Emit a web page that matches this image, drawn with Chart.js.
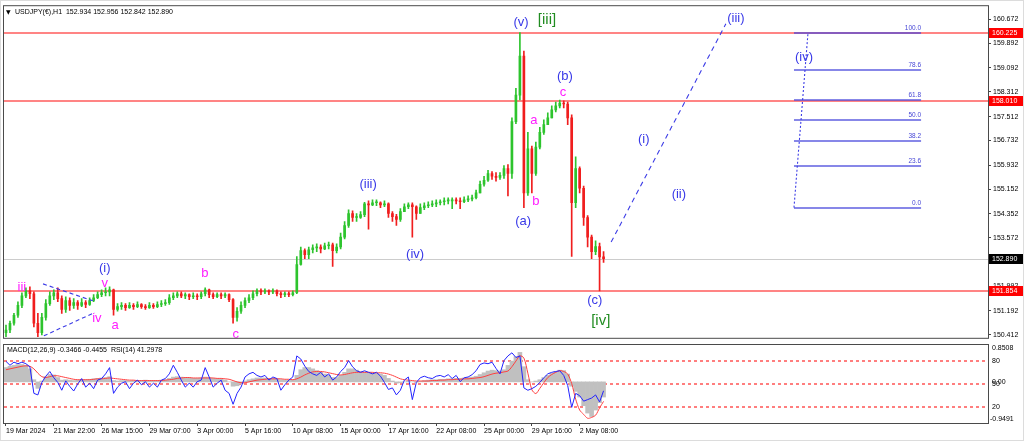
<!DOCTYPE html>
<html><head><meta charset="utf-8">
<script src="https://cdn.jsdelivr.net/npm/chart.js@4.4.1/dist/chart.umd.min.js"></script>
<style>
html,body{margin:0;padding:0;background:#fff;}
#wrap{position:relative;width:1024px;height:441px;overflow:hidden;background:#fff;}
#c1{position:absolute;left:0;top:0;}
#c2{position:absolute;left:0;top:344px;}
#edge{position:absolute;left:0;top:0;width:1024px;height:441px;box-sizing:border-box;border:1px solid #dcdcdc;pointer-events:none;}
</style></head>
<body>
<div id="wrap">
<canvas id="c1" width="1024" height="344"></canvas>
<canvas id="c2" width="1024" height="97"></canvas>
<div id="edge"></div>
</div>
<script>
const FONT = "'Liberation Sans', Arial, sans-serif";
const symbolTitle = "USDJPY(€),H1  152.934 152.956 152.842 152.890";
const indicatorTitle = "MACD(12,26,9) -0.3466 -0.4455  RSI(14) 41.2978";

const timeLabels = ["19 Mar 2024","21 Mar 22:00","26 Mar 15:00","29 Mar 07:00","3 Apr 00:00","5 Apr 16:00","10 Apr 08:00","15 Apr 00:00","17 Apr 16:00","22 Apr 08:00","25 Apr 00:00","29 Apr 16:00","2 May 08:00"];
const priceTicks = [160.672,159.892,159.092,158.312,157.512,156.732,155.932,155.152,154.352,153.572,152.792,151.992,151.192,150.412];

const opens = [150.48,150.57,150.79,151.05,151.37,151.68,151.84,151.75,150.79,150.48,
150.98,151.43,151.68,151.78,151.59,151.24,151.53,151.37,151.46,151.37,
151.46,151.40,151.53,151.62,151.72,151.78,151.81,151.88,151.24,151.33,
151.37,151.30,151.37,151.33,151.40,151.33,151.30,151.37,151.33,151.40,
151.43,151.46,151.62,151.68,151.75,151.68,151.72,151.65,151.68,151.65,
151.75,151.88,151.72,151.65,151.72,151.68,151.72,151.56,150.98,151.18,
151.37,151.53,151.62,151.75,151.84,151.81,151.84,151.81,151.84,151.75,
151.72,151.75,151.72,151.78,152.70,153.15,153.02,153.18,153.24,153.27,
153.21,153.31,153.34,153.15,153.27,153.59,153.97,154.36,154.23,154.23,
154.32,154.67,154.64,154.71,154.71,154.64,154.67,154.36,154.26,154.17,
154.42,154.58,154.64,154.58,154.36,154.55,154.61,154.64,154.67,154.71,
154.74,154.77,154.77,154.80,154.77,154.74,154.80,154.83,154.87,155.03,
155.31,155.44,155.66,155.57,155.53,155.60,155.82,155.66,157.35,158.21,
159.48,155.03,156.46,155.66,156.52,157.00,157.25,157.47,157.73,157.86,
157.95,157.92,157.47,154.71,155.82,155.18,154.23,153.59,153.12,153.28,
152.95];
const highs = [150.73,150.86,151.11,151.49,151.78,151.94,151.97,151.81,151.11,151.11,
151.56,151.81,151.88,151.94,151.68,151.65,151.62,151.59,151.53,151.59,
151.53,151.62,151.72,151.81,151.88,151.94,151.97,151.90,151.43,151.46,
151.43,151.46,151.43,151.49,151.43,151.40,151.46,151.43,151.49,151.53,
151.56,151.72,151.78,151.81,151.81,151.78,151.75,151.78,151.75,151.81,
151.94,151.90,151.78,151.78,151.78,151.78,151.75,151.59,151.30,151.49,
151.62,151.72,151.84,151.91,151.91,151.91,151.88,151.91,151.88,151.81,
151.81,151.81,151.84,152.96,153.27,153.21,153.27,153.34,153.37,153.34,
153.40,153.43,153.40,153.37,153.72,154.10,154.48,154.45,154.36,154.42,
154.72,154.77,154.80,154.80,154.74,154.77,154.71,154.42,154.33,154.52,
154.67,154.71,154.71,154.61,154.67,154.71,154.74,154.77,154.80,154.80,
154.87,154.87,154.87,154.87,154.87,154.90,154.93,154.96,155.12,155.41,
155.57,155.76,155.72,155.69,155.69,155.92,155.95,157.47,158.43,160.24,
159.64,157.00,156.55,156.68,157.16,157.41,157.63,157.86,157.98,158.05,
158.02,157.98,157.57,156.20,155.88,155.25,154.29,153.66,153.47,153.40,
153.12];
const lows = [150.35,150.48,150.73,150.98,151.30,151.62,151.59,150.67,150.35,150.41,
150.89,151.37,151.56,151.49,151.11,151.14,151.21,151.27,151.24,151.33,
151.30,151.37,151.49,151.59,151.65,151.68,151.68,151.05,151.18,151.24,
151.21,151.27,151.24,151.30,151.27,151.24,151.27,151.27,151.30,151.33,
151.37,151.40,151.56,151.62,151.62,151.59,151.56,151.59,151.56,151.59,
151.68,151.62,151.59,151.62,151.59,151.62,151.49,150.79,150.86,151.11,
151.30,151.46,151.56,151.68,151.72,151.75,151.72,151.75,151.68,151.62,
151.65,151.65,151.68,151.75,152.68,152.89,152.89,153.08,153.12,153.08,
153.18,153.21,152.64,153.08,153.21,153.53,153.91,154.10,154.10,154.20,
154.26,153.85,154.61,154.61,154.55,154.58,154.23,154.10,153.97,154.10,
154.42,154.52,153.59,154.17,154.36,154.48,154.55,154.58,154.58,154.64,
154.64,154.67,154.52,154.67,154.52,154.71,154.74,154.77,154.83,155.03,
155.25,155.40,155.47,155.41,155.47,155.50,154.93,155.50,157.28,158.05,
154.55,154.95,155.03,155.60,156.46,156.93,157.25,157.47,157.66,157.79,
157.79,157.25,152.96,154.55,155.03,153.97,153.27,152.89,153.02,151.84,
152.77];
const closes = [150.57,150.79,151.05,151.37,151.68,151.84,151.75,150.79,150.48,150.98,
151.43,151.68,151.78,151.59,151.24,151.53,151.37,151.46,151.37,151.46,
151.40,151.53,151.62,151.72,151.78,151.81,151.88,151.24,151.33,151.37,
151.30,151.37,151.33,151.40,151.33,151.30,151.37,151.33,151.40,151.43,
151.46,151.62,151.68,151.75,151.68,151.72,151.65,151.68,151.65,151.75,
151.88,151.72,151.65,151.72,151.68,151.72,151.56,150.98,151.18,151.37,
151.53,151.62,151.75,151.84,151.81,151.84,151.81,151.84,151.75,151.72,
151.75,151.72,151.78,152.70,153.15,153.02,153.18,153.24,153.27,153.21,
153.31,153.34,153.15,153.27,153.59,153.97,154.36,154.23,154.23,154.32,
154.67,154.64,154.71,154.71,154.64,154.67,154.36,154.26,154.17,154.42,
154.58,154.64,154.58,154.36,154.55,154.61,154.64,154.67,154.71,154.74,
154.77,154.77,154.80,154.77,154.74,154.80,154.83,154.87,155.03,155.31,
155.44,155.66,155.57,155.53,155.60,155.82,155.66,157.35,158.21,159.48,
155.03,156.46,155.66,156.52,157.00,157.25,157.47,157.73,157.86,157.95,
157.92,157.47,154.71,155.82,155.18,154.23,153.59,153.12,153.28,152.95,
152.89];

const macdMain = [0.33,0.36,0.38,0.40,0.40,0.38,0.30,0.05,-0.15,0.02,
0.12,0.17,0.16,0.10,0.04,0.05,0.04,0.03,0.04,0.05,
0.05,0.06,0.07,0.08,0.09,0.10,0.12,0.03,0.02,0.03,
0.03,0.02,0.03,0.03,0.03,0.04,0.03,0.03,0.03,0.04,
0.05,0.08,0.11,0.12,0.11,0.10,0.09,0.08,0.08,0.09,
0.11,0.10,0.08,0.07,0.06,0.04,0.00,-0.10,-0.09,-0.04,
0.02,0.05,0.07,0.09,0.09,0.09,0.08,0.08,0.07,0.05,
0.04,0.04,0.04,0.15,0.28,0.33,0.33,0.30,0.26,0.22,
0.18,0.15,0.10,0.10,0.15,0.22,0.30,0.30,0.27,0.24,
0.23,0.22,0.21,0.20,0.18,0.15,0.08,0.02,-0.03,-0.02,
0.00,0.02,0.00,-0.01,0.01,0.03,0.04,0.05,0.05,0.06,
0.06,0.07,0.07,0.08,0.08,0.09,0.10,0.11,0.13,0.17,
0.21,0.25,0.27,0.26,0.25,0.28,0.38,0.48,0.58,0.68,
0.35,0.05,0.00,0.02,0.05,0.10,0.15,0.20,0.24,0.27,
0.26,0.18,-0.10,-0.22,-0.35,-0.55,-0.72,-0.80,-0.65,-0.48,
-0.35];
const macdSignal = [0.28,0.30,0.32,0.34,0.36,0.37,0.36,0.30,0.20,0.12,
0.10,0.12,0.14,0.14,0.12,0.10,0.08,0.06,0.05,0.05,
0.05,0.05,0.06,0.07,0.07,0.08,0.09,0.08,0.07,0.06,
0.05,0.04,0.04,0.03,0.03,0.03,0.03,0.03,0.03,0.03,
0.04,0.05,0.06,0.08,0.09,0.10,0.10,0.09,0.09,0.09,
0.09,0.09,0.09,0.08,0.08,0.07,0.06,0.03,0.00,-0.02,
-0.02,0.00,0.02,0.04,0.05,0.06,0.07,0.07,0.07,0.07,
0.06,0.06,0.05,0.07,0.11,0.16,0.20,0.23,0.24,0.24,
0.23,0.21,0.19,0.17,0.16,0.17,0.19,0.21,0.22,0.22,
0.22,0.22,0.22,0.21,0.21,0.20,0.18,0.15,0.11,0.07,
0.05,0.04,0.03,0.02,0.02,0.02,0.02,0.03,0.03,0.04,
0.04,0.05,0.05,0.06,0.06,0.07,0.07,0.08,0.09,0.10,
0.12,0.15,0.18,0.20,0.21,0.23,0.25,0.35,0.48,0.60,
0.55,0.20,-0.18,-0.27,-0.15,-0.02,0.10,0.17,0.22,0.26,
0.24,0.18,-0.04,-0.40,-0.65,-0.75,-0.84,-0.82,-0.77,-0.60,
-0.45];
const rsiValues = [79,74,78,76,78,76,72,38,36,52,
60,66,58,52,42,54,47,41,50,57,
46,51,44,55,57,63,71,38,46,51,
53,44,51,55,49,53,46,51,46,55,
57,63,74,65,55,46,51,46,53,55,
71,59,46,51,55,42,38,24,38,46,
59,63,65,61,59,61,55,59,57,42,
49,55,59,86,82,73,66,63,61,65,
59,63,55,59,66,71,80,72,67,65,
67,65,63,65,60,52,43,45,36,42,
55,59,30,52,58,60,58,57,60,61,
59,62,57,61,53,58,59,62,67,75,
77,76,78,70,63,80,86,90,84,86,
45,42,44,47,52,58,63,65,66,67,
61,48,20,38,35,28,30,32,36,27,
41.3];

const levelLines = [160.225, 158.010, 151.854];
const bidPrice = 152.890;
const fibLevels = [0.0, 23.6, 38.2, 50.0, 61.8, 78.6, 100.0];
const fibLow = 154.55, fibHigh = 160.225;
const rsiLevels = [80, 50, 20];
const TOTAL_SLOTS = 247;

/* annotations in data coordinates (slot index, price) */
const waveLabels = [
  {text:'(v)', at:129.3, price:160.59, kind:'blue'},
  {text:'[iii]', at:135.8, price:160.66, kind:'green'},
  {text:'(b)', at:140.3, price:158.81, kind:'blue'},
  {text:'c', at:139.8, price:158.30, kind:'mag'},
  {text:'a', at:132.5, price:157.38, kind:'mag'},
  {text:'b', at:133.0, price:154.74, kind:'mag'},
  {text:'(a)', at:129.8, price:154.10, kind:'blue'},
  {text:'(c)', at:147.8, price:151.53, kind:'blue'},
  {text:'[iv]', at:149.3, price:150.86, kind:'green'},
  {text:'(i)', at:160.1, price:156.77, kind:'blue'},
  {text:'(ii)', at:168.9, price:154.99, kind:'blue'},
  {text:'(iii)', at:183.2, price:160.69, kind:'blue'},
  {text:'(iv)', at:200.3, price:159.45, kind:'blue'},
  {text:'(iii)', at:90.9, price:155.31, kind:'blue'},
  {text:'(iv)', at:102.7, price:153.02, kind:'blue'},
  {text:'(i)', at:24.8, price:152.57, kind:'blue'},
  {text:'v', at:24.8, price:152.10, kind:'mag'},
  {text:'iii', at:4.0, price:151.94, kind:'mag'},
  {text:'iv', at:22.8, price:150.95, kind:'mag'},
  {text:'a', at:27.4, price:150.73, kind:'mag'},
  {text:'b', at:49.9, price:152.42, kind:'mag'},
  {text:'c', at:57.7, price:150.41, kind:'mag'}
];
const trendLines = [
  {from:[151.9,153.43], to:[180.7,160.53], dash:[5,4]},
  {from:[197.8,154.55], to:[201.3,160.21], dash:[2,2]},
  {from:[9.3,152.07], to:[21.8,151.52], dash:[4,3]},
  {from:[9.5,150.38], to:[22.3,151.14], dash:[4,3]}
];
const fibSpan = [197.8, 229.7];

const STYLE = {
  blue:{color:'#3838e8', font:'13px '+FONT},
  mag:{color:'#ff1cff', font:'13px '+FONT},
  green:{color:'#218c21', font:'15px '+FONT}
};
const UP = '#2ec42e', DOWN = '#f01e1e';

const slotLabels = Array.from({length:TOTAL_SLOTS}, (_, i) =>
  (i % 12 === 0 && i / 12 < timeLabels.length) ? timeLabels[i / 12] : '');

const candleColor = ctx => closes[ctx.dataIndex] >= opens[ctx.dataIndex] ? UP : DOWN;

function hrule(ctx, a, py, color, h){
  ctx.fillStyle = color;
  ctx.fillRect(a.left, Math.round(py) - (h > 1 ? 1 : 0), a.right - a.left, h);
}
function frame(ctx, a){
  ctx.save();
  ctx.strokeStyle = '#4a4a4a'; ctx.lineWidth = 1;
  ctx.strokeRect(a.left - 0.5, a.top - 0.5, a.right - a.left + 1, a.bottom - a.top + 1);
  ctx.restore();
}

const mainDecor = {
  id:'mainDecor',
  beforeDatasetsDraw(chart){
    const ctx = chart.ctx, a = chart.chartArea, ys = chart.scales.y;
    ctx.save();
    hrule(ctx, a, ys.getPixelForValue(bidPrice), '#cccccc', 1);
    levelLines.forEach(l => hrule(ctx, a, ys.getPixelForValue(l), 'rgba(255,50,50,0.6)', 2));
    ctx.restore();
  },
  afterDatasetsDraw(chart){
    const ctx = chart.ctx, a = chart.chartArea, xs = chart.scales.x, ys = chart.scales.y;
    ctx.save();
    ctx.beginPath(); ctx.rect(a.left, a.top, a.width, a.height); ctx.clip();
    const fx0 = xs.getPixelForValue(fibSpan[0]), fx1 = xs.getPixelForValue(fibSpan[1]);
    fibLevels.forEach(lv => {
      const py = Math.round(ys.getPixelForValue(fibLow + (fibHigh - fibLow) * lv / 100));
      ctx.fillStyle = 'rgba(70,70,220,0.65)';
      ctx.fillRect(fx0, py - 1, fx1 - fx0, 2);
      ctx.fillStyle = '#4646d6'; ctx.font = '6.5px ' + FONT;
      ctx.textAlign = 'right'; ctx.textBaseline = 'bottom';
      ctx.fillText(lv.toFixed(1), fx1, py - 2);
    });
    trendLines.forEach(t => {
      ctx.strokeStyle = '#3c3ce6'; ctx.lineWidth = 1.1; ctx.setLineDash(t.dash);
      ctx.beginPath();
      ctx.moveTo(xs.getPixelForValue(t.from[0]), ys.getPixelForValue(t.from[1]));
      ctx.lineTo(xs.getPixelForValue(t.to[0]), ys.getPixelForValue(t.to[1]));
      ctx.stroke();
    });
    ctx.setLineDash([]);
    ctx.textAlign = 'center'; ctx.textBaseline = 'middle';
    waveLabels.forEach(w => {
      const s = STYLE[w.kind];
      ctx.fillStyle = s.color; ctx.font = s.font;
      ctx.fillText(w.text, xs.getPixelForValue(w.at), ys.getPixelForValue(w.price));
    });
    ctx.fillStyle = '#000';
    ctx.font = '6px DejaVu Sans';
    ctx.textAlign = 'left';
    ctx.fillText('▼', a.left + 2, a.top + 6);
    ctx.font = '7px ' + FONT;
    ctx.fillText(symbolTitle, a.left + 11, a.top + 6);
    ctx.restore();
    frame(ctx, a);
  },
  afterDraw(chart){
    const ctx = chart.ctx, a = chart.chartArea, ys = chart.scales.y;
    ctx.save();
    ctx.font = '7px ' + FONT; ctx.textAlign = 'left'; ctx.textBaseline = 'middle';
    const box = (v, bg) => {
      const py = Math.round(ys.getPixelForValue(v));
      ctx.fillStyle = bg; ctx.fillRect(a.right + 1, py - 5, 35, 10);
      ctx.fillStyle = '#fff'; ctx.fillText(v.toFixed(3), a.right + 4, py);
    };
    levelLines.forEach(l => box(l, '#ff0000'));
    box(bidPrice, '#000');
    ctx.restore();
  }
};

const lowerDecor = {
  id:'lowerDecor',
  beforeDatasetsDraw(chart){
    const ctx = chart.ctx, a = chart.chartArea, s = chart.scales;
    ctx.save();
    ctx.strokeStyle = 'rgba(255,40,40,0.6)'; ctx.lineWidth = 2; ctx.setLineDash([3,3]);
    rsiLevels.forEach(l => {
      const py = Math.round(s.yR.getPixelForValue(l));
      ctx.beginPath(); ctx.moveTo(a.left, py); ctx.lineTo(a.right, py); ctx.stroke();
    });
    ctx.restore();
  },
  afterDatasetsDraw(chart){
    const ctx = chart.ctx, a = chart.chartArea, s = chart.scales;
    ctx.save();
    ctx.fillStyle = '#000'; ctx.font = '7px ' + FONT;
    ctx.textAlign = 'left'; ctx.textBaseline = 'middle';
    ctx.fillText(indicatorTitle, a.left + 3, a.top + 5);
    const rx = a.right + 4;
    ctx.textBaseline = 'top'; ctx.fillText(s.yM.max.toFixed(4), rx, a.top);
    ctx.textBaseline = 'bottom'; ctx.fillText(s.yM.min.toFixed(4), rx - 2, a.bottom);
    ctx.textBaseline = 'middle';
    rsiLevels.forEach(l => ctx.fillText(String(l), rx, s.yR.getPixelForValue(l)));
    ctx.fillText('0.00', rx, s.yM.getPixelForValue(0));
    ctx.restore();
    frame(ctx, a);
  }
};

Chart.defaults.font.family = FONT;
Chart.defaults.font.size = 7;
Chart.defaults.color = '#000';

new Chart(document.getElementById('c1'), {
  type:'bar',
  data:{
    labels: slotLabels,
    datasets:[
      {data: lows.map((l, i) => [l, highs[i]]), backgroundColor: candleColor, barThickness:1, grouped:false, borderWidth:0},
      {data: opens.map((o, i) => [o, closes[i]]), backgroundColor: candleColor, barThickness:2, grouped:false, borderWidth:0, minBarLength:1}
    ]
  },
  options:{
    responsive:false, animation:false, events:[],
    layout:{padding:{left:4, top:4, right:0, bottom:1}},
    plugins:{legend:{display:false}, tooltip:{enabled:false}},
    scales:{
      x:{type:'category', display:false, offset:true, grid:{offset:false}},
      y:{position:'right', min:150.316, max:161.102,
        afterBuildTicks: s => { s.ticks = priceTicks.map(v => ({value:v})); },
        afterFit: s => { s.width = 36; },
        ticks:{autoSkip:false, padding:2, color:'#000', font:{size:7, family:FONT}, callback: v => Number(v).toFixed(3)},
        grid:{drawOnChartArea:false, drawTicks:true, tickLength:3, color:'#444'},
        border:{display:false}
      }
    }
  },
  plugins:[mainDecor]
});

new Chart(document.getElementById('c2'), {
  type:'bar',
  data:{
    labels: slotLabels,
    datasets:[
      {type:'line', data: rsiValues, yAxisID:'yR', borderColor:'#2323ff', borderWidth:1, pointRadius:0, tension:0, order:1},
      {type:'line', data: macdSignal, yAxisID:'yM', borderColor:'#ff4040', borderWidth:1, pointRadius:0, tension:0.3, order:2},
      {type:'bar', data: macdMain, yAxisID:'yM', backgroundColor:'#c0c0c0', barPercentage:1, categoryPercentage:1, grouped:false, borderWidth:0, order:3}
    ]
  },
  options:{
    responsive:false, animation:false, events:[],
    layout:{padding:{left:4, top:1, right:36, bottom:0}},
    plugins:{legend:{display:false}, tooltip:{enabled:false}},
    scales:{
      x:{type:'category', offset:true,
        grid:{offset:false, drawOnChartArea:false, drawTicks:true, tickLength:3, color:'#444'},
        border:{display:false},
        afterBuildTicks: s => { s.ticks = s.ticks.filter(t => slotLabels[t.value]); },
        afterFit: s => { s.height = 18; },
        ticks:{autoSkip:false, maxRotation:0, minRotation:0, align:'start', padding:1, color:'#000', font:{size:7, family:FONT}}
      },
      yM:{display:false, min:-0.9491, max:0.8508},
      yR:{display:false, min:0, max:100}
    }
  },
  plugins:[lowerDecor]
});
</script>
</body></html>
